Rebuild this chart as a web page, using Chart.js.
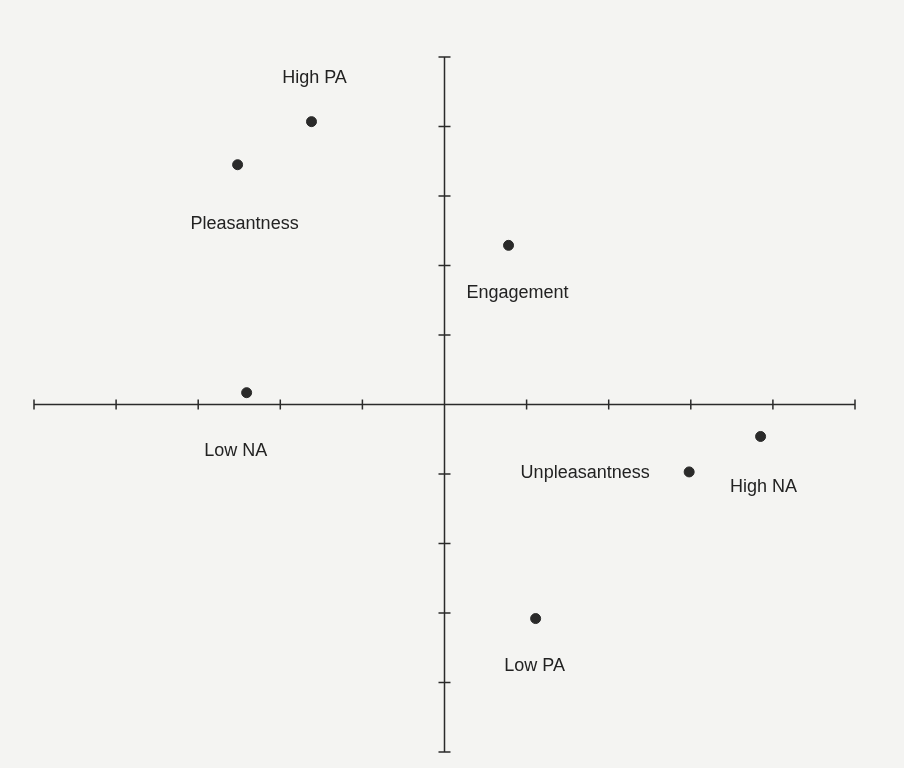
<!DOCTYPE html>
<html>
<head>
<meta charset="utf-8">
<script src="https://cdn.jsdelivr.net/npm/chart.js@4"></script>
<style>
  html, body { margin: 0; padding: 0; background: #f4f4f2; }
  #wrap { width: 904px; height: 768px; }
</style>
</head>
<body>
<div id="wrap"><canvas id="plot" width="904" height="768"></canvas></div>
<script>
// points, axis units -5..5
const names = ['High PA', 'Pleasantness', 'Engagement', 'Low NA', 'Unpleasantness', 'High NA', 'Low PA'];
const xVals = [-1.62, -2.52, 0.78, -2.41, 2.98, 3.85, 1.11];
const yVals = [4.07, 3.45, 2.29, 0.17, -0.97, -0.46, -3.08];
const axisTicks = [-5, -4, -3, -2, -1, 0, 1, 2, 3, 4, 5];

// where each label sits relative to its dot (px)
const labelOffsets = [[3, -39], [7, 64], [9, 53], [-11, 63], [-104, 6], [3, 56], [-1, 52]];

const ink = '#2a2a2a';

const paper = {
  id: 'paper',
  beforeDraw(chart) {
    const c = chart.ctx;
    c.save();
    c.fillStyle = '#f4f4f2';
    c.fillRect(0, 0, chart.width, chart.height);
    c.restore();
  }
};

const crossAxes = {
  id: 'crossAxes',
  beforeDatasetsDraw(chart) {
    const c = chart.ctx;
    const xs = chart.scales.x, ys = chart.scales.y;
    const x0 = xs.getPixelForValue(0), y0 = ys.getPixelForValue(0);
    c.save();
    c.strokeStyle = ink;
    c.lineWidth = 1.5;
    c.beginPath();
    c.moveTo(xs.getPixelForValue(axisTicks[0]), y0);
    c.lineTo(xs.getPixelForValue(axisTicks[axisTicks.length - 1]), y0);
    c.moveTo(x0, ys.getPixelForValue(axisTicks[axisTicks.length - 1]));
    c.lineTo(x0, ys.getPixelForValue(axisTicks[0]));
    axisTicks.forEach(t => {
      const px = xs.getPixelForValue(t);
      c.moveTo(px, y0 - 5);
      c.lineTo(px, y0 + 5);
      const py = ys.getPixelForValue(t);
      c.moveTo(x0 - 6, py);
      c.lineTo(x0 + 6, py);
    });
    c.stroke();
    c.restore();
  },
  afterDatasetsDraw(chart) {
    const c = chart.ctx;
    const meta = chart.getDatasetMeta(0);
    c.save();
    c.fillStyle = '#222';
    c.font = '18px "Liberation Sans", Arial, sans-serif';
    c.textAlign = 'center';
    c.textBaseline = 'alphabetic';
    meta.data.forEach((pt, i) => {
      const [dx, dy] = labelOffsets[i];
      c.fillText(names[i], pt.x + dx, pt.y + dy);
    });
    c.restore();
  }
};

new Chart(document.getElementById('plot').getContext('2d'), {
  type: 'scatter',
  data: {
    datasets: [{
      label: 'states',
      data: xVals.map((x, i) => ({ x: x, y: yVals[i] })),
      backgroundColor: ink,
      borderColor: ink,
      pointRadius: 5,
      pointHoverRadius: 5
    }]
  },
  options: {
    responsive: false,
    animation: false,
    layout: { padding: { left: 34, right: 49, top: 57, bottom: 16 } },
    plugins: { legend: { display: false }, tooltip: { enabled: false } },
    scales: {
      x: { type: 'linear', min: -5, max: 5, display: false },
      y: { type: 'linear', min: -5, max: 5, display: false }
    }
  },
  plugins: [paper, crossAxes]
});
</script>
</body>
</html>
